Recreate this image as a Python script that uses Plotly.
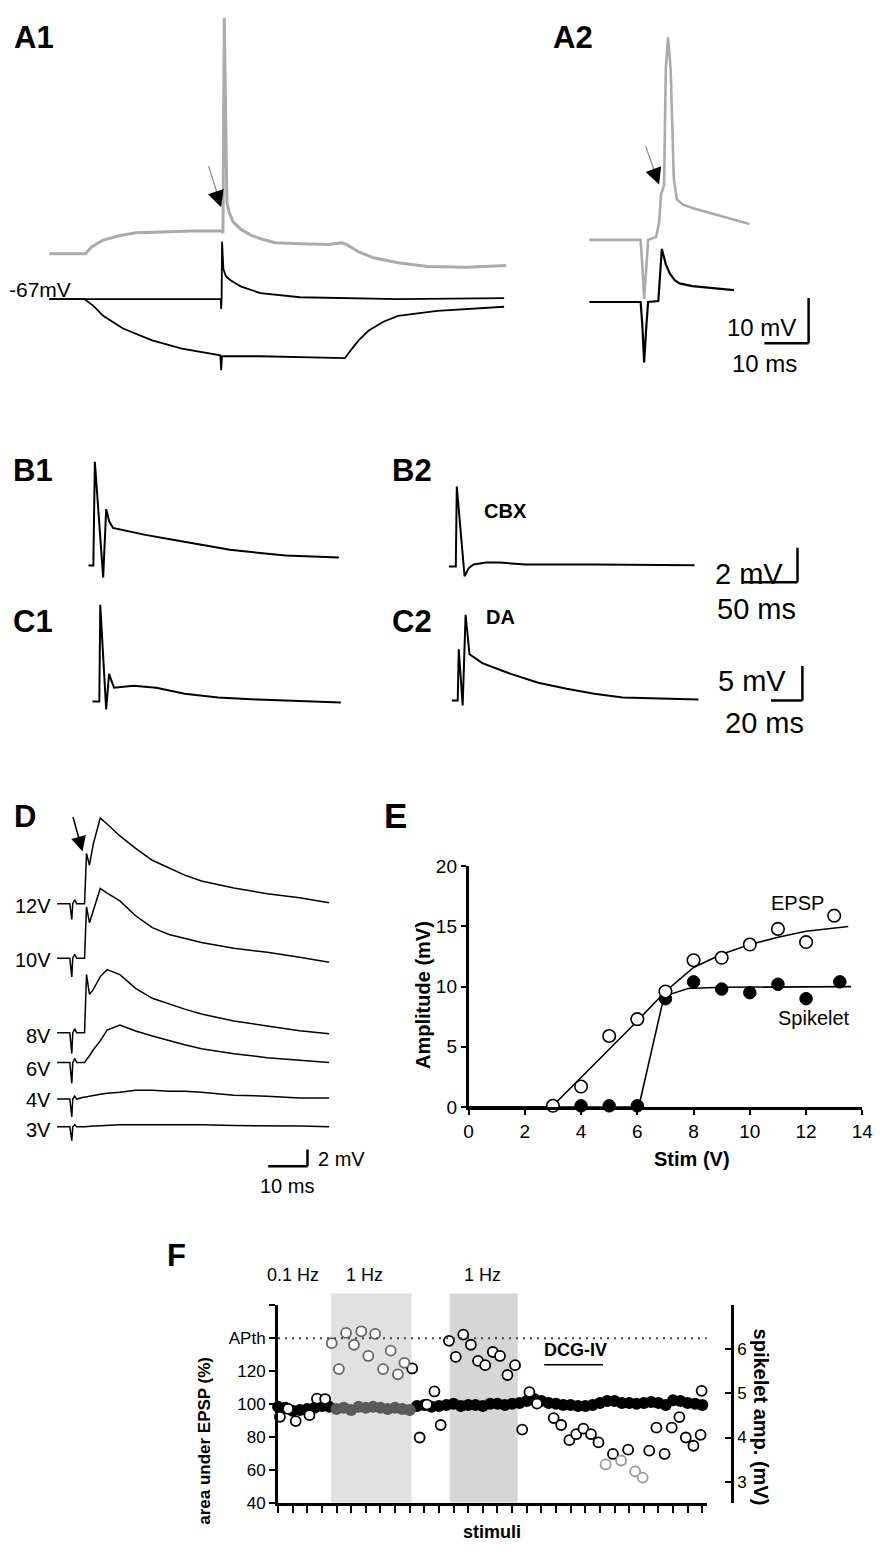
import plotly.graph_objects as go

W, H = 892, 1559
FONT = "Liberation Sans, Arial, sans-serif"
GRAY = "#ababab"

# ---------------- A1 / A2 : paired recordings (ms, mV) ----------------
a1_gray_t = [0, 8.2, 9.6, 12.2, 15.6, 19.6, 25.6, 32.2, 38.9, 39.3, 39.6, 40.2, 40.7, 41.6,
             43.3, 45.6, 47.8, 51.1, 56.7, 63.3, 66.2, 67.3, 70.0, 73.3, 78.9, 85.6, 94.4, 103.3]
a1_gray_v = [-57.0, -57.0, -55.5, -54.0, -53.1, -52.4, -52.2, -52.0, -52.0, -52.4, -5.0, -45.7, -47.9, -50.0,
             -51.6, -52.9, -53.7, -54.6, -54.8, -55.0, -54.6, -55.0, -56.6, -57.9, -59.0, -59.8, -60.0, -59.6]
a1_rest_t = [0, 38.8, 38.9, 39.0, 39.1, 39.4, 39.8, 40.2, 41.1, 43.3, 47.8, 56.7, 78.9, 102.9]
a1_rest_v = [-67.0, -67.0, -69.2, -67.0, -54.4, -60.3, -61.6, -62.2, -62.9, -64.2, -65.7, -66.6, -67.0, -66.8]
a1_hyp_t = [0, 8.0, 10.0, 12.2, 16.7, 23.3, 30.0, 34.4, 38.7, 38.9, 39.1, 47.8, 56.7, 66.9, 68.2,
            70.0, 72.2, 75.6, 78.9, 87.8, 102.9]
a1_hyp_v = [-67.0, -67.0, -68.5, -70.7, -73.5, -76.1, -77.9, -78.7, -79.4, -82.7, -79.6, -79.6, -79.8, -80.0, -78.3,
            -76.1, -74.0, -72.0, -70.7, -69.6, -68.7]

a2_gray_t = [0, 11.6, 12.0, 12.4, 12.9, 13.3, 15.1, 15.8, 16.2, 16.9, 17.3, 17.8, 18.4, 19.1, 19.8,
             21.1, 23.3, 29.3, 36.2]
a2_gray_v = [-53.3, -53.3, -59.2, -66.3, -59.2, -53.3, -52.7, -49.4, -43.3, -41.3, -15.7, -8.7, -15.7, -39.6, -44.4,
             -45.5, -46.3, -47.9, -49.8]
a2_black_t = [0, 11.6, 12.0, 12.4, 12.9, 13.3, 15.6, 16.0, 16.4, 17.3, 18.2, 19.3, 20.4, 23.3, 27.8, 32.7]
a2_black_v = [-67.0, -67.0, -72.2, -80.3, -72.2, -67.0, -66.8, -61.3, -55.3, -58.7, -60.7, -62.2, -62.9, -63.5,
              -64.0, -64.4]

# ---------------- B / C : control vs CBX / DA (ms, mV from baseline) ----------------
b1_t = [0, 4.5, 5.9, 13.6, 16.4, 19.1, 22.7, 52.7, 78.2, 104.5, 130.9, 156.4, 182.7, 231.8]
b1_v = [0, 0, 6.0, -0.69, 3.26, 2.57, 2.17, 1.77, 1.49, 1.2, 0.91, 0.74, 0.57, 0.46]
b2_t = [0, 6.4, 7.3, 14.5, 18.2, 22.7, 34.5, 46.4, 70.9, 134.5, 227.3]
b2_v = [0, 0, 4.63, -0.57, -0.11, 0.11, 0.23, 0.23, 0.11, 0.11, 0.06]
c1_t = [0, 4.4, 5.0, 8.75, 10.6, 13.75, 26.25, 40.6, 58.75, 80, 105, 158.1]
c1_v = [0, 0, 14.0, -1.14, 4.0, 2.0, 2.29, 2.0, 1.14, 0.57, 0.29, -0.14]
c2_t = [0, 3.75, 4.4, 6.9, 8.75, 11.25, 19.4, 37.5, 55, 73.1, 90.6, 108.75, 156.9]
c2_v = [0, 0, 7.43, -0.71, 12.43, 6.71, 5.43, 3.86, 2.57, 1.71, 1.0, 0.43, 0.14]

# ---------------- D : responses to increasing stimulus ----------------
d_t = [0, 3.25, 3.75, 4.0, 4.5, 5.0, 7.0, 7.25, 7.5, 8.25, 9.25, 11.0, 12.75, 16.0, 20.0,
       24.25, 28.5, 32.5, 36.75, 45.0, 53.5, 61.75, 69.25]
d_labels = ["12V", "10V", "8V", "6V", "4V", "3V"]
d_12v = [0, 0, -1.88, 0, 0.47, 0, 0, 3.06, 6.0, 4.59, 7.18, 10.2, 9.5, 8.08, 6.59, 5.18, 4.24, 3.41, 2.71, 1.88, 1.18, 0.71, 0.12]
d_10v = [0, 0, -2.24, 0, 0.47, 0, 0, 3.65, 6.12, 4.24, 5.77, 8.32, 7.77, 6.83, 5.06, 3.65, 2.83, 2.35, 1.88, 1.18, 0.71, 0.12, -0.47]
d_8v = [0, 0, -2.47, 0, 0.47, 0, 0, 4.36, 6.95, 4.59, 5.18, 6.71, 7.54, 6.95, 5.3, 4.12, 3.41, 2.83, 2.24, 1.41, 0.82, 0.24, -0.12]
d_6v = [0, 0, -2.47, 0, 0.47, 0, 0, 0.12, 0.35, 0.82, 1.53, 2.59, 3.89, 4.47, 3.77, 3.18, 2.59, 2.12, 1.65, 1.06, 0.59, 0.24, 0]
d_4v = [0, 0, -2.12, 0, 0.35, 0, 0.24, 0.24, 0.24, 0.35, 0.47, 0.59, 0.71, 0.82, 1.06, 1.06, 0.94, 0.94, 0.82, 0.47, 0.35, 0.12, 0.12]
d_3v = [0, 0, -1.65, 0, 0.24, 0, 0, 0, 0, 0, 0.08, 0.12, 0.16, 0.24, 0.24, 0.24, 0.31, 0.24, 0.24, 0.16, 0.16, 0.08, 0]
d_offsets = [26.6, 20.1, 11.2, 7.65, 3.3, 0]  # display stacking (mV)

# ---------------- E : amplitude vs stim ----------------
e_stim = [3, 4, 5, 6, 7, 8, 9, 10, 11, 12, 13]
e_epsp = [0.1, 1.7, 5.9, 7.3, 9.6, 12.2, 12.4, 13.5, 14.8, 13.7, 15.9]
e_spk_stim = [4, 5, 6, 7, 8, 9, 10, 11, 12, 13.2]
e_spk = [0.1, 0.1, 0.1, 9.0, 10.4, 9.8, 9.5, 10.2, 9.0, 10.4]
e_epsp_fit_x = [0, 2.95, 4, 5, 6, 7, 8, 9, 10, 11, 12, 13.5]
e_epsp_fit_y = [0, 0, 2.45, 4.8, 7.15, 9.6, 11.6, 12.7, 13.5, 14.1, 14.6, 15.0]
e_spk_fit_x = [0, 6.05, 6.95, 7.8, 9, 13.6]
e_spk_fit_y = [0, 0, 9.2, 9.85, 9.95, 10.0]

# ---------------- F : area under EPSP and spikelet over stimuli ----------------
f_epsp_x = [0.13, 0.69, 1.21, 2.15, 2.66, 3.22, 3.67, 4.16, 4.65, 5.19, 5.69, 6.17, 6.64, 7.18, 7.70,
            8.19, 8.64, 9.17, 9.68, 10.18, 10.69, 11.12, 11.68, 12.15, 12.66, 13.18, 13.67, 14.16, 14.68,
            15.17, 15.68, 16.2, 16.69, 17.18, 17.7, 18.84, 19.35, 19.91, 20.38, 20.87, 21.39, 21.9, 22.39,
            22.89, 23.45, 23.93, 24.41, 24.92, 25.37, 25.86, 26.42, 26.91, 27.43, 27.87, 28.39, 28.88,
            28.95, 29.4, 29.55]
f_epsp_area = [92.2, 97, 89.6, 93.2, 103.2, 103, 137, 121.2, 143.2, 136, 144.2, 129.2, 142.6, 121.2, 132.4,
               118, 125, 121.6, 79.6, 99.6, 107.6, 87.2, 138.4, 128.6, 142.2, 136, 126.2, 123.6, 131.6,
               129.2, 117.6, 123.6, 84.4, 107.2, 100.2, 91.4, 87.2, 78, 81.6, 85, 81.6, 76.6, 63.2,
               69.6, 65.6, 72.2, 59, 55.2, 71.6, 85.6, 69.6, 85.6, 92, 79.6, 74.6, 81.2,
               108, 86.6, 96.6]
f_spk_amp = [4.69, 4.67, 4.60, 4.62, 4.64, 4.67, 4.71, 4.69,
             4.64, 4.67, 4.62, 4.69, 4.67, 4.69, 4.67, 4.64, 4.67, 4.64, 4.62,
             4.71, 4.73, 4.69, 4.71, 4.73, 4.76, 4.71, 4.73, 4.73, 4.71, 4.76, 4.76, 4.73, 4.76,
             4.78, 4.82, 4.87, 4.82, 4.78, 4.76, 4.73, 4.73, 4.71, 4.71, 4.73, 4.78, 4.82, 4.82,
             4.78, 4.78, 4.76, 4.78, 4.80, 4.78, 4.73, 4.84, 4.82, 4.78, 4.76, 4.73]
f_spk_x = [i / 2 for i in range(len(f_spk_amp))]  # stimulus index
f_win1 = (3.62, 9.13)
f_win2 = (11.74, 16.38)
f_apth = 140


def px(x):
    return x / W


def py(y):
    return 1 - y / H


def ax(n, kind):
    return kind if n == 1 else f"{kind}{n}"


fig = go.Figure()


def panel(n, xpx, ypx, xr, yr):
    fig.update_layout({
        ("xaxis" if n == 1 else f"xaxis{n}"): dict(domain=[px(xpx[0]), px(xpx[1])], range=xr, visible=False,
                                                  anchor=ax(n, "y"), fixedrange=True),
        ("yaxis" if n == 1 else f"yaxis{n}"): dict(domain=[py(ypx[1]), py(ypx[0])], range=yr, visible=False,
                                                  anchor=ax(n, "x"), fixedrange=True),
    })


def trace(n, t, v, color="black", width=2.0):
    fig.add_trace(go.Scatter(x=t, y=v, mode="lines", line=dict(color=color, width=width),
                             xaxis=ax(n, "x"), yaxis=ax(n, "y"), hoverinfo="skip", showlegend=False))


def bar(n, x0, y0, x1, y1, width=2.5):
    fig.add_shape(type="line", xref=ax(n, "x"), yref=ax(n, "y"), x0=x0, y0=y0, x1=x1, y1=y1,
                  line=dict(color="black", width=width))


annots = []


def text(s, x, y, size, bold=False, xanchor="center", angle=0, color="black"):
    annots.append(dict(text=f"<b>{s}</b>" if bold else s, x=px(x), y=py(y), xref="paper", yref="paper",
                       xanchor=xanchor, yanchor="middle", showarrow=False, textangle=angle,
                       font=dict(family=FONT, size=size, color=color)))


def arrow(head, tail, color, width, headstyle=0, size=1.0):
    annots.append(dict(text="", x=px(head[0]), y=py(head[1]), xref="paper", yref="paper",
                       ax=tail[0] - head[0], ay=tail[1] - head[1], showarrow=True,
                       arrowhead=headstyle, arrowsize=size, arrowwidth=width, arrowcolor=color))


# A1
panel(1, (40, 515), (0, 370), [-1.11, 104.4], [-83.74, -3.3])
trace(1, a1_gray_t, a1_gray_v, GRAY, 3)
trace(1, a1_hyp_t, a1_hyp_v, "black", 1.8)
trace(1, a1_rest_t, a1_rest_v, "black", 1.8)
# A2
panel(2, (590, 830), (0, 370), [-1.11, 52.2], [-83.09, -2.65])
trace(2, a2_gray_t, a2_gray_v, GRAY, 2.6)
trace(2, a2_black_t, a2_black_v, "black", 2.2)
bar(2, 49.6, -66.1, 49.6, -76.1)
bar(2, 39.6, -76.1, 49.6, -76.1)

# B, C
panel(3, (80, 345), (445, 585), [-4.55, 236.4], [-1.257, 6.743])
trace(3, b1_t, b1_v)
panel(4, (447, 815), (445, 585), [-4.55, 330], [-1.2, 6.8])
trace(4, b2_t, b2_v)
bar(4, 322.7, 1.086, 322.7, -0.914)
bar(4, 272.7, -0.914, 322.7, -0.914)
panel(5, (84, 345), (595, 715), [-3.125, 160], [-2.0, 15.14])
trace(5, c1_t, c1_v)
panel(6, (450, 825), (595, 715), [-3.125, 231.25], [-2.143, 15])
trace(6, c2_t, c2_v)
bar(6, 223.1, 5.0, 223.1, 0)
bar(6, 203.1, 0, 223.1, 0)

# D
panel(7, (45, 335), (800, 1178), [-2.0, 70.5], [-5.41, 39.06])
for vals, off in zip([d_12v, d_10v, d_8v, d_6v, d_4v, d_3v], d_offsets):
    trace(7, d_t, [v + off for v in vals], "black", 1.5)
bar(7, 63.75, -2.71, 63.75, -4.71, 2.5)
bar(7, 53.75, -4.71, 63.75, -4.71, 2.5)

# E
axis_style = dict(showline=True, linecolor="black", linewidth=2.5, ticks="outside", ticklen=5, tickwidth=2,
                  tickcolor="black", showgrid=False, zeroline=False, fixedrange=True,
                  tickfont=dict(family=FONT, size=19, color="black"))
fig.update_layout(
    xaxis8=dict(domain=[px(472), px(873)], range=[0, 14], tickvals=list(range(0, 15, 2)), anchor="y8", **axis_style),
    yaxis8=dict(domain=[py(1112), py(868)], range=[0, 20], tickvals=[0, 5, 10, 15, 20], anchor="x8", **axis_style),
)
fig.add_trace(go.Scatter(x=e_epsp_fit_x, y=e_epsp_fit_y, mode="lines", line=dict(color="black", width=1.6),
                         xaxis="x8", yaxis="y8", cliponaxis=False, hoverinfo="skip"))
fig.add_trace(go.Scatter(x=e_spk_fit_x, y=e_spk_fit_y, mode="lines", line=dict(color="black", width=1.6),
                         xaxis="x8", yaxis="y8", cliponaxis=False, hoverinfo="skip"))
fig.add_trace(go.Scatter(x=e_spk_stim, y=e_spk, mode="markers", name="Spikelet",
                         marker=dict(symbol="circle", size=12.5, color="black", line=dict(color="black", width=1)),
                         xaxis="x8", yaxis="y8", cliponaxis=False))
fig.add_trace(go.Scatter(x=e_stim, y=e_epsp, mode="markers", name="EPSP",
                         marker=dict(symbol="circle", size=12.5, color="white", line=dict(color="black", width=1.6)),
                         xaxis="x8", yaxis="y8", cliponaxis=False))

# F
f_axis = dict(showline=True, linecolor="black", linewidth=3, tickcolor="black", tickwidth=2, showgrid=False,
              zeroline=False, fixedrange=True, tickfont=dict(family=FONT, size=17, color="black"))
fig.update_layout(
    xaxis9=dict(domain=[px(278), px(715)], range=[0, 29.33], anchor="y9", tickvals=list(range(30)),
                ticks="outside", ticklen=7, showticklabels=False, **f_axis),
    yaxis9=dict(domain=[py(1513), py(1313)], range=[2.533, 6.978], side="right", anchor="free",
                position=px(740), tickvals=[3, 4, 5, 6], ticks="inside", ticklen=6, **f_axis),
    yaxis10=dict(range=[40, 160], overlaying="y9", side="left", anchor="x9",
                 tickvals=[40, 60, 80, 100, 120, 140, 160], ticktext=["40", "60", "80", "100", "120", "APth", ""],
                 ticks="outside", ticklen=6, **f_axis),
)
for (x0, x1), col in [(f_win1, "#e1e1e1"), (f_win2, "#d6d6d6")]:
    fig.add_shape(type="rect", xref="x9", yref="paper", x0=x0, x1=x1, y0=py(1513), y1=py(1301),
                  fillcolor=col, line=dict(width=0), layer="below")
fig.add_shape(type="line", xref="x9", yref="y10", x0=0, x1=29.3, y0=f_apth, y1=f_apth,
              line=dict(color="#444444", width=2, dash="2px,5px"))
fig.add_shape(type="line", xref="x9", yref="y10", x0=18.19, x1=22.21, y0=123.8, y1=123.8,
              line=dict(color="black", width=1.5))

in_win1 = [f_win1[0] <= x <= f_win1[1] for x in f_spk_x]
for sel, col in [(False, "black"), (True, "#5a5a5a")]:
    xs = [x for x, w in zip(f_spk_x, in_win1) if w == sel]
    ys = [y for y, w in zip(f_spk_amp, in_win1) if w == sel]
    fig.add_trace(go.Scatter(x=xs, y=ys, mode="markers", marker=dict(size=12, color=col),
                             xaxis="x9", yaxis="y9", cliponaxis=False, hoverinfo="skip"))

faded = {42, 44, 46, 47}
groups = {"black": [], "#666666": [], "#9a9a9a": []}
for i, (x, y) in enumerate(zip(f_epsp_x, f_epsp_area)):
    if f_win1[0] <= x <= f_win1[1]:
        groups["#666666"].append((x, y))
    elif i in faded:
        groups["#9a9a9a"].append((x, y))
    else:
        groups["black"].append((x, y))
for col, pts in groups.items():
    fig.add_trace(go.Scatter(x=[p[0] for p in pts], y=[p[1] for p in pts], mode="markers",
                             marker=dict(size=10, color="white", line=dict(color=col, width=1.8)),
                             xaxis="x9", yaxis="y10", cliponaxis=False, hoverinfo="skip"))

# texts
for s, x, y in [("A1", 7, 28), ("A2", 556, 28), ("B1", 6, 467), ("B2", 392, 467),
                ("C1", 6, 620), ("C2", 392, 620), ("D", 7, 818), ("F", 163, 1262)]:
    text(s, x, y, 31, bold=True, xanchor="left")
text("E", 384, 816, 35, bold=True, xanchor="left")
text("-67mV", 2, 283, 21, xanchor="left")
text("10 mV", 770, 322, 24)
text("10 ms", 773, 358, 24)
text("CBX", 510, 508, 20, bold=True)
text("DA", 505, 615, 20, bold=True)
text("2 mV", 758, 572, 29)
text("50 ms", 765, 607, 29)
text("5 mV", 761, 680, 29)
text("20 ms", 773, 723, 29)
for s, y in zip(d_labels, [908, 963, 1040, 1073, 1105, 1135]):
    text(s, 49, y, 20, xanchor="right")
text("2 mV", 317, 1165, 20, xanchor="left")
text("10 ms", 287, 1192, 20)
text("EPSP", 807, 905, 20)
text("Spikelet", 824, 1022, 20)
text("Amplitude (mV)", 425, 998, 20, bold=True, angle=-90)
text("Stim (V)", 700, 1165, 20, bold=True)
text("0.1 Hz", 293, 1282, 18)
text("1 Hz", 366, 1282, 18)
text("1 Hz", 486, 1282, 18)
text("DCG-IV", 581, 1358, 18, bold=True)
text("stimuli", 496, 1543, 18, bold=True)
text("area under EPSP (%)", 203, 1450, 17, bold=True, angle=-90)
text("spikelet amp. (mV)", 770, 1426, 20, bold=True, angle=90)

# arrows
arrow((217, 189), (207, 157), "#8c8c8c", 1.2)
arrow((220, 200), (216, 188), "black", 1.5, headstyle=2, size=2.2)
arrow((663, 168), (652, 137), "#8c8c8c", 1.2)
arrow((666, 177), (662, 166), "black", 1.5, headstyle=2, size=2.2)
arrow((79, 853), (69, 817), "black", 1.5, headstyle=2, size=2.0)

fig.update_layout(
    width=W, height=H, margin=dict(l=0, r=0, t=0, b=0),
    paper_bgcolor="white", plot_bgcolor="rgba(0,0,0,0)",
    showlegend=False, annotations=annots,
    font=dict(family=FONT, color="black"),
)

# page body margin would push the fixed-size figure off the window
fig.write_html("out.html", config={"displayModeBar": False},
               post_script="document.body.style.margin='0';document.body.style.overflow='hidden';")
